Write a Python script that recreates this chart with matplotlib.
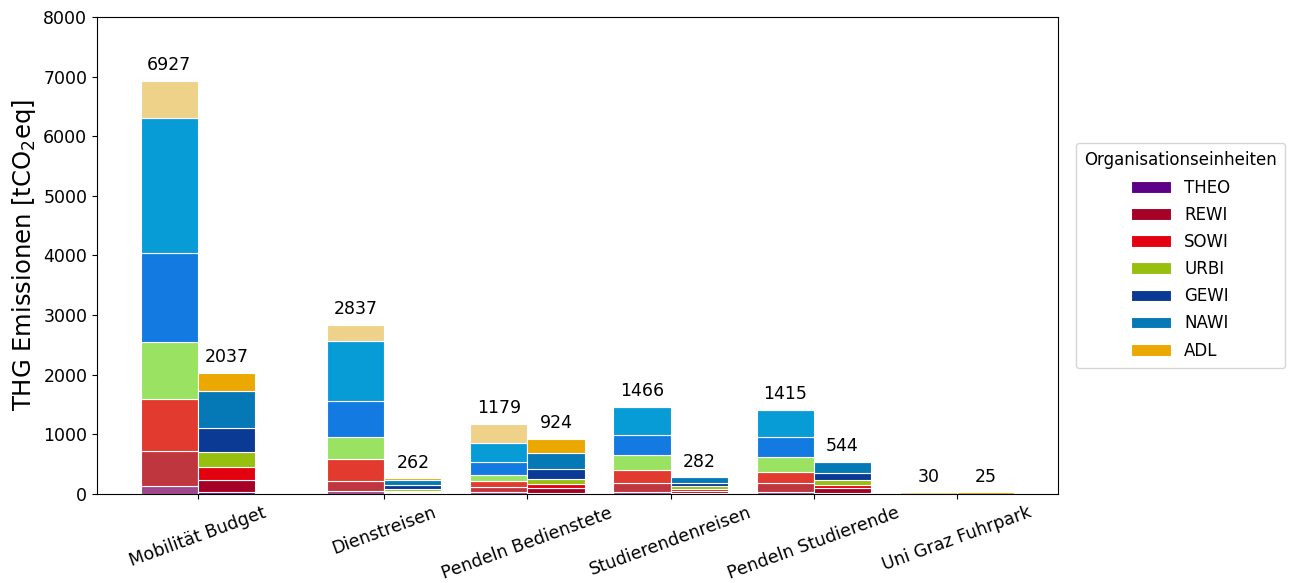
import matplotlib.pyplot as plt
import numpy as np

# Kategorien und Positionen (erste Lücke etwas größer)
kategorien = ['Mobilität Budget', 'Dienstreisen', 'Pendeln Bedienstete',
              'Studierendenreisen', 'Pendeln Studierende', 'Uni Graz Fuhrpark']
x_pos = np.array([0, 1.3, 2.3, 3.3, 4.3, 5.3])

einheiten = ['THEO', 'REWI', 'SOWI', 'URBI', 'GEWI', 'NAWI', 'ADL']

# linke Balken (helle Farben)
links = {
    'THEO': [134, 45, 34, 29, 28, 0],
    'REWI': [592, 178, 78, 150, 151, 0],
    'SOWI': [862, 359, 101, 218, 195, 0],
    'URBI': [966, 379, 100, 252, 252, 0],
    'GEWI': [1482, 604, 218, 335, 325, 0],
    'NAWI': [2275, 1006, 330, 482, 464, 0],
    'ADL':  [616, 266, 318, 0, 0, 30],
}
# rechte Balken (dunkle Farben)
rechts = {
    'THEO': [39, 8, 22, 10, 22, 0],
    'REWI': [196, 25, 79, 35, 74, 0],
    'SOWI': [212, 25, 67, 40, 50, 0],
    'URBI': [252, 30, 89, 45, 89, 0],
    'GEWI': [413, 65, 157, 60, 112, 0],
    'NAWI': [610, 85, 268, 92, 197, 0],
    'ADL':  [315, 24, 242, 0, 0, 25],
}

farben_hell = ['#a0468a', '#c0363f', '#e23a2e', '#9ae262', '#127ae0', '#079cd6', '#efd28a']
farben_dunkel = ['#5e0085', '#a50026', '#e3000f', '#97bf0d', '#0a3a94', '#0578b6', '#eaa800']

breite = 0.4

fig = plt.figure(figsize=(12.92, 5.83), dpi=100)
ax = fig.add_axes([0.0751, 0.1527, 0.7438, 0.8181])

unten_l = np.zeros(len(kategorien))
unten_r = np.zeros(len(kategorien))
for i, e in enumerate(einheiten):
    vl = np.array(links[e])
    vr = np.array(rechts[e])
    ax.bar(x_pos - breite / 2, vl, breite, bottom=unten_l, color=farben_hell[i],
           edgecolor='white', linewidth=0.8)
    ax.bar(x_pos + breite / 2, vr, breite, bottom=unten_r, color=farben_dunkel[i],
           edgecolor='white', linewidth=0.8, label=e)
    unten_l += vl
    unten_r += vr

# Summen über den Balken
for xx, s in zip(x_pos - breite / 2, unten_l):
    ax.text(xx, s + 110, '%d' % round(s), ha='center', va='bottom', fontsize=12.5)
for xx, s in zip(x_pos + breite / 2, unten_r):
    ax.text(xx, s + 110, '%d' % round(s), ha='center', va='bottom', fontsize=12.5)

ax.set_ylim(0, 8000)
ax.set_xticks(x_pos)
ax.set_xticklabels(kategorien, rotation=20, ha='center', fontsize=12.5)
ax.tick_params(axis='y', labelsize=12.5)
ax.set_ylabel('THG Emissionen [tCO$_2$eq]', fontsize=17.5)

ax.legend(title='Organisationseinheiten', loc='center left', bbox_to_anchor=(1.01, 0.5),
          fontsize=12, title_fontsize=12, handlelength=2.4, labelspacing=0.55,
          borderpad=0.5)

plt.savefig('out.png', dpi=100)
